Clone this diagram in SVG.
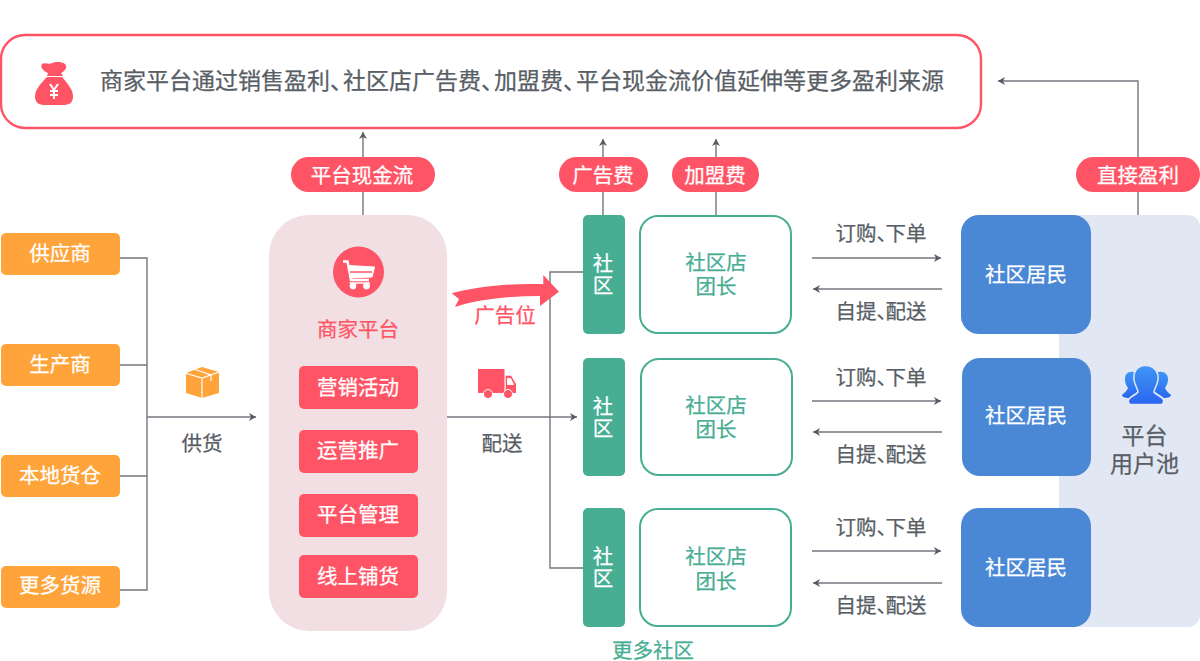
<svg xmlns="http://www.w3.org/2000/svg" width="1200" height="661" viewBox="0 0 1200 661">
<style>
text{font-family:"Noto Sans CJK SC","Noto Sans",sans-serif;text-anchor:middle;font-size:20.500px;font-weight:400;stroke-width:.25px}
.d{fill:#585e66;stroke:#585e66}.w{fill:#fff;stroke:#fff}.g{fill:#47ad93;stroke:#47ad93}.r{fill:#ff5466}
text.r{stroke:#ff5466}
.p{letter-spacing:-11.500px}.pt{letter-spacing:-10px}
.o{fill:#ffa43a}.rb{fill:#ff5466}.pill{fill:#ff5466}.sq{fill:#47ad93}.bl{fill:#4a88d6}
.st{fill:#fff;stroke:#47ad93;stroke-width:2}
.c{fill:none;stroke:#73787f;stroke-width:1.4}
</style>
<defs>
<marker id="a" markerUnits="userSpaceOnUse" markerWidth="10" markerHeight="10" refX="8" refY="5" orient="auto"><path d="M1 1L8 5L1 9L3 5Z" fill="#555b63"/></marker>
<linearGradient id="u" x1="0" y1="0" x2="0" y2="1"><stop offset="0" stop-color="#3f96f5"/><stop offset="1" stop-color="#2a66f0"/></linearGradient>
</defs>
<g id="pool"><rect x="1059" y="215" width="141" height="412" rx="12" fill="#e2e8f3"/></g>
<g id="connectors">
<path class="c" d="M120 258H147V590H120M120 365H147M120 476H147"/>
<path class="c" d="M147 417H256" marker-end="url(#a)"/>
<path class="c" d="M447 417H577" marker-end="url(#a)"/>
<path class="c" d="M583 272H550V568H583"/>
<path class="c" d="M363 215V132" marker-end="url(#a)"/>
<path class="c" d="M603 215V139" marker-end="url(#a)"/>
<path class="c" d="M716 215V139" marker-end="url(#a)"/>
<path class="c" d="M1138 215V81H998" marker-end="url(#a)"/>
<path class="c" d="M812 258H941" marker-end="url(#a)"/>
<path class="c" d="M942 289H813" marker-end="url(#a)"/>
<path class="c" d="M812 401H941" marker-end="url(#a)"/>
<path class="c" d="M942 432H813" marker-end="url(#a)"/>
<path class="c" d="M812 551H941" marker-end="url(#a)"/>
<path class="c" d="M942 583H813" marker-end="url(#a)"/>
</g>
<g id="top"><rect x="1" y="35" width="980" height="93" rx="24" fill="#fff" stroke="#ff5466" stroke-width="2.4"/>
<path class="r" d="M42 64C44 62 50 65 52 63C55 62 61 61 65 64C68 67 65 71 61 73L63 76H47L48 73C43 71 40 67 42 64Z"/>
<path class="r" d="M47 77H62C68 84 73 90 73 96C73 103 69 105 63 105H45C39 105 35 103 35 96C35 90 41 83 47 77Z"/>
<path d="M50 84L54 90L58 84M54 90V99M50 91H58M50 95H58" fill="none" stroke="#fff" stroke-width="2"/>
<text class="d" x="522" y="89" style="font-size:23px">商家平台通过销售盈<tspan>利</tspan><tspan class="pt">、</tspan>社区店广告<tspan>费</tspan><tspan class="pt">、</tspan>加盟<tspan>费</tspan><tspan class="pt">、</tspan>平台现金流价值延伸等更多盈利来源</text></g>
<g id="s1"><rect class="o" x="1" y="233" width="119" height="42" rx="5"/><text class="w" x="60" y="261">供应商</text></g>
<g id="s2"><rect class="o" x="1" y="344" width="119" height="42" rx="5"/><text class="w" x="60" y="372">生产商</text></g>
<g id="s3"><rect class="o" x="1" y="455" width="119" height="42" rx="5"/><text class="w" x="60" y="483">本地货仓</text></g>
<g id="s4"><rect class="o" x="1" y="566" width="119" height="42" rx="5"/><text class="w" x="60" y="593">更多货源</text></g>
<g id="box"><path class="o" d="M186 373L194 370L202 367L219 372V393L202 398L186 393Z"/><path d="M185 373L202 378L219 372M202 378V398M194 369L211 375V381" fill="none" stroke="#fff" stroke-width="1.2"/></g>
<text class="d" x="202" y="451">供货</text>
<g id="platform"><rect x="269" y="215" width="178" height="416" rx="40" fill="#f1dfe3"/>
<circle class="r" cx="358.500" cy="272" r="25.500"/>
<path d="M343 261.500H347.500L351 280H369" fill="none" stroke="#fff" stroke-width="2.500"/>
<path class="w" d="M348.500 265.500L374.500 267L372 277L350.500 278Z"/>
<path d="M350 272H372" stroke="#ff5466" stroke-width="1.500"/>
<path d="M349.500 283H370" stroke="#fff" stroke-width="1.500"/>
<circle class="w" cx="353" cy="286" r="3" stroke="none"/><circle class="w" cx="366.500" cy="286" r="3" stroke="none"/>
<text class="r" x="358" y="337">商家平台</text>
<rect class="rb" x="299" y="366" width="119" height="43" rx="5"/><text class="w" x="358" y="395">营销活动</text>
<rect class="rb" x="299" y="430" width="119" height="43" rx="5"/><text class="w" x="358" y="458">运营推广</text>
<rect class="rb" x="299" y="494" width="119" height="43" rx="5"/><text class="w" x="358" y="522">平台管理</text>
<rect class="rb" x="299" y="555" width="119" height="43" rx="5"/><text class="w" x="358" y="584">线上铺货</text></g>
<g id="p1"><rect class="pill" x="291" y="157" width="144" height="35" rx="17.500"/><text class="w" x="362" y="183">平台现金流</text></g>
<g id="p2"><rect class="pill" x="559" y="157" width="89" height="35" rx="17.500"/><text class="w" x="603" y="183">广告费</text></g>
<g id="p3"><rect class="pill" x="672" y="157" width="87" height="35" rx="17.500"/><text class="w" x="715" y="183">加盟费</text></g>
<g id="p4"><rect class="pill" x="1076" y="157" width="124" height="35" rx="17.500"/><text class="w" x="1138" y="183">直接盈利</text></g>
<g id="adarrow"><path class="r" d="M451.700 293.300C480 286 515 283 543.300 284.300L543.300 275L559 291.700L540 306L540 296C510 296 480 299 455 307L459 299Z"/></g>
<text class="r" x="505" y="323">广告位</text>
<g id="truck"><path class="r" d="M478 369H504.500V393H478ZM505.700 375.700H511L516 384V393H505.700Z"/><path class="w" stroke="none" d="M507.500 378.500H510.500L513.500 384.500H507.500Z"/><circle class="r" cx="488" cy="394" r="4.500" stroke="#fff"/><circle class="r" cx="508" cy="394" r="4.500" stroke="#fff"/></g>
<text class="d" x="502" y="451">配送</text>
<g id="sq1"><rect class="sq" x="583" y="215" width="42" height="119" rx="5"/><text class="w" x="603" y="271">社<tspan x="603" dy="22">区</tspan></text></g>
<g id="sq2"><rect class="sq" x="583" y="358" width="42" height="118" rx="5"/><text class="w" x="603" y="414">社<tspan x="603" dy="22">区</tspan></text></g>
<g id="sq3"><rect class="sq" x="583" y="508" width="42" height="119" rx="5"/><text class="w" x="603" y="564">社<tspan x="603" dy="22">区</tspan></text></g>
<g id="st1"><rect class="st" x="640" y="216" width="151" height="117" rx="18"/><text class="g" x="716" y="270">社区店<tspan x="716" dy="24">团长</tspan></text></g>
<g id="st2"><rect class="st" x="641" y="359" width="151" height="116" rx="18"/><text class="g" x="716" y="413">社区店<tspan x="716" dy="24">团长</tspan></text></g>
<g id="st3"><rect class="st" x="640" y="509" width="151" height="117" rx="18"/><text class="g" x="716" y="564">社区店<tspan x="716" dy="25">团长</tspan></text></g>
<g id="b1"><rect class="bl" x="961" y="215" width="130" height="119" rx="18"/><text class="w" x="1026" y="282">社区居民</text></g>
<g id="b2"><rect class="bl" x="962" y="358" width="129" height="118" rx="18"/><text class="w" x="1026" y="423">社区居民</text></g>
<g id="b3"><rect class="bl" x="961" y="508" width="130" height="119" rx="18"/><text class="w" x="1026" y="575">社区居民</text></g>
<text class="d" x="881" y="241">订<tspan>购</tspan><tspan class="p">、</tspan>下单</text><text class="d" x="881" y="319">自<tspan>提</tspan><tspan class="p">、</tspan>配送</text>
<text class="d" x="881" y="385">订<tspan>购</tspan><tspan class="p">、</tspan>下单</text><text class="d" x="881" y="462">自<tspan>提</tspan><tspan class="p">、</tspan>配送</text>
<text class="d" x="881" y="535">订<tspan>购</tspan><tspan class="p">、</tspan>下单</text><text class="d" x="881" y="613">自<tspan>提</tspan><tspan class="p">、</tspan>配送</text>
<text class="g" x="653" y="657.500">更多社区</text>
<g id="users"><path fill="url(#u)" d="M1136 373C1130 370 1125 373 1125 379C1125 384 1127 386 1128 388C1127 391 1124 393 1122 395C1122 397 1125 398 1129 398L1140 390Z"/>
<path fill="url(#u)" d="M1156 373C1162 370 1168 373 1168 379C1168 384 1166 386 1165 388C1166 391 1169 393 1171 395C1171 397 1168 398 1164 398L1152 390Z"/>
<path fill="url(#u)" stroke="#e2e8f3" stroke-width="1.500" d="M1145.500 365.500C1154 365.500 1159 372 1158 380C1157 386 1154 389 1154 392C1156 395 1161 396 1163 399C1164.500 402 1163 404.500 1161 404.500H1131C1129 404.500 1127.500 402 1129 399C1131 396 1136 395 1138 392C1138 389 1135 386 1134 380C1133 372 1137 365.500 1145.500 365.500Z"/></g>
<text class="d" x="1144.500" y="444" style="font-size:23px">平台<tspan x="1144.500" dy="28">用户池</tspan></text>
</svg>
